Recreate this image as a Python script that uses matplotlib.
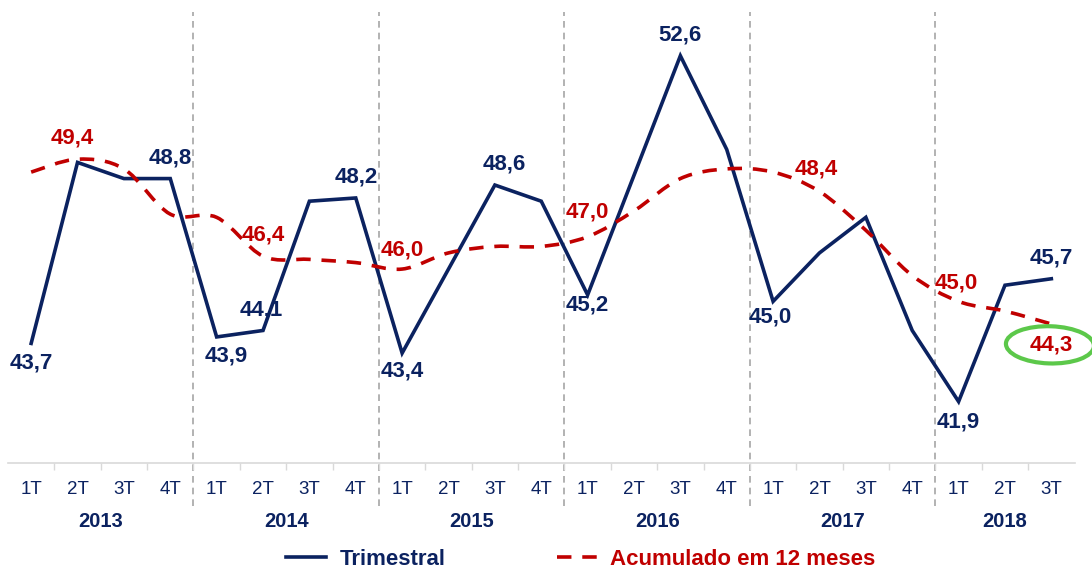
import matplotlib.pyplot as plt
import matplotlib.transforms as mtransforms
from matplotlib.path import Path
from matplotlib.patches import PathPatch, Ellipse
from matplotlib.lines import Line2D

quarters = ["1T", "2T", "3T", "4T"] * 5 + ["1T", "2T", "3T"]
years = ["2013", "2014", "2015", "2016", "2017", "2018"]

trimestral = [43.7, 49.3, 48.8, 48.8,
              43.9, 44.1, 48.1, 48.2,
              43.4, 46.0, 48.6, 48.1,
              45.2, 48.9, 52.6, 49.7,
              45.0, 46.5, 47.6, 44.1,
              41.9, 45.5, 45.7]

acumulado = [49.0, 49.4, 49.1, 47.7,
             47.6, 46.4, 46.3, 46.2,
             46.0, 46.5, 46.7, 46.7,
             47.0, 47.8, 48.8, 49.1,
             49.0, 48.4, 47.2, 45.8,
             45.0, 44.7, 44.3]

# (index, dx points, dy points) for the labels that are shown
blue_labels = [(0, 0, -14), (3, 0, 15), (4, 7, -14), (5, -1, 15),
               (7, 0, 15), (8, 0, -13), (10, 7, 15), (12, 0, -7),
               (14, 0, 15), (16, -2, -11), (20, 0, -15), (22, 0, 15)]
red_labels = [(1, -4, 15), (5, 0, 15), (8, 0, 14), (12, 0, 18),
              (17, -2, 16), (20, -2, 13), (22, 0, -15)]

navy = "#0B2260"
red = "#C00000"
grey = "#A6A6A6"

plt.rcParams["font.family"] = ["Liberation Sans", "DejaVu Sans"]

fig = plt.figure(figsize=(10.92, 5.72), dpi=100)
ax = fig.add_axes([0.0073, 0.1906, 0.9767, 0.791])

x = list(range(len(trimestral)))

ax.plot(x, trimestral, color=navy, lw=2.6, solid_joinstyle="miter", zorder=3)


# smooth dashed curve (Catmull-Rom as cubic bezier) through the values
def smooth_path(xs, ys):
    verts = [(xs[0], ys[0])]
    codes = [Path.MOVETO]
    n = len(xs)
    for i in range(n - 1):
        x0, y0 = (xs[i - 1], ys[i - 1]) if i > 0 else (xs[i], ys[i])
        x1, y1 = xs[i], ys[i]
        x2, y2 = xs[i + 1], ys[i + 1]
        x3, y3 = (xs[i + 2], ys[i + 2]) if i + 2 < n else (x2, y2)
        c1 = (x1 + (x2 - x0) / 6.0, y1 + (y2 - y0) / 6.0)
        c2 = (x2 - (x3 - x1) / 6.0, y2 - (y3 - y1) / 6.0)
        verts += [c1, c2, (x2, y2)]
        codes += [Path.CURVE4] * 3
    return Path(verts, codes)


ax.add_patch(PathPatch(smooth_path(x, acumulado), fill=False, edgecolor=red,
                       lw=2.6, linestyle=(0, (4, 3)), zorder=4))

for i, dx, dy in blue_labels:
    ax.annotate(f"{trimestral[i]:.1f}".replace(".", ","), (i, trimestral[i]),
                xytext=(dx, dy), textcoords="offset points", ha="center",
                va="center", fontsize=16, fontweight="bold", color=navy,
                zorder=6)
for i, dx, dy in red_labels:
    ax.annotate(f"{acumulado[i]:.1f}".replace(".", ","), (i, acumulado[i]),
                xytext=(dx, dy), textcoords="offset points", ha="center",
                va="center", fontsize=16, fontweight="bold", color=red,
                zorder=6)

# green highlight around the last value
last = len(acumulado) - 1
offset = mtransforms.offset_copy(ax.transData, fig=fig, x=-1, y=-15,
                                 units="points")
ax.add_patch(Ellipse((last, acumulado[last]), 1.9, 1.15, angle=-3,
                     transform=offset, fill=False, edgecolor="#5CC84A",
                     lw=3, clip_on=False, zorder=5))

ax.set_xlim(-0.5, len(x) - 0.5)
ax.set_ylim(40, 54)
ax.set_yticks([])
for s in ["top", "right", "left"]:
    ax.spines[s].set_visible(False)
ax.spines["bottom"].set_color("#D9D9D9")
ax.spines["bottom"].set_linewidth(1.2)

ax.set_xticks([i - 0.5 for i in range(1, len(x))])
ax.set_xticklabels([])
ax.tick_params(axis="x", length=5, color="#D9D9D9", width=1)

blend = mtransforms.blended_transform_factory(ax.transData, ax.transAxes)
for i, q in enumerate(quarters):
    ax.text(i, -0.058, q, transform=blend, ha="center", va="center",
            fontsize=13.5, color=navy)
for k, yname in enumerate(years):
    first = 4 * k
    lastq = min(4 * k + 3, len(x) - 1)
    ax.text((first + lastq) / 2.0, -0.13, yname, transform=blend,
            ha="center", va="center", fontsize=14.5, fontweight="bold",
            color=navy)
for k in range(1, len(years)):
    xb = 4 * k - 0.5
    ax.plot([xb, xb], [-0.095, 0.997], transform=blend, color=grey, lw=1.2,
            linestyle=(0, (4, 3)), clip_on=False, zorder=1)

handles = [Line2D([], [], color=navy, lw=2.6),
           Line2D([], [], color=red, lw=2.6, linestyle=(0, (4, 3)))]
leg = fig.legend(handles, ["Trimestral", "Acumulado em 12 meses"],
                 loc="center", bbox_to_anchor=(0.532, 0.022), ncol=2,
                 frameon=False, handlelength=1.8, handletextpad=0.6,
                 columnspacing=5.0, prop={"size": 16, "weight": "bold"})
for txt, c in zip(leg.get_texts(), [navy, red]):
    txt.set_color(c)

fig.savefig("out.png", dpi=100)
